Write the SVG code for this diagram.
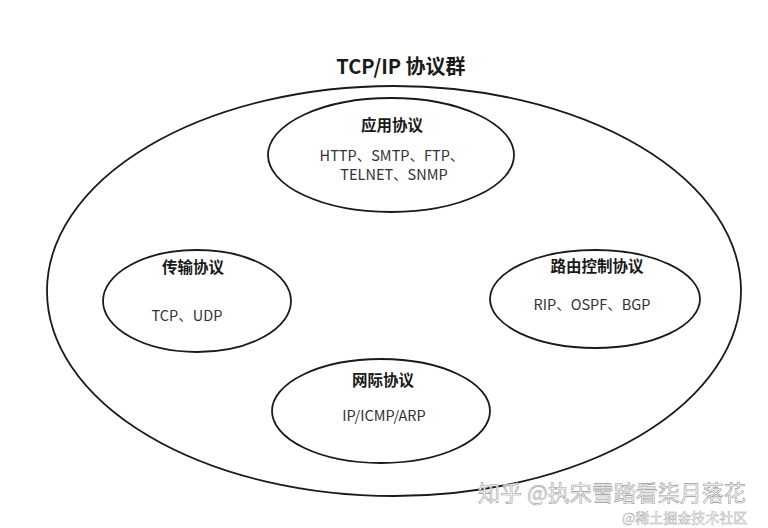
<svg xmlns="http://www.w3.org/2000/svg" width="768" height="528" viewBox="0 0 768 528">
<style>
  .shape { fill: #ffffff; stroke: #1a1a1a; stroke-width: 1.8; }
  .outer { fill: none; stroke: #1a1a1a; stroke-width: 1.8; }
  text { font-family: "Noto Sans CJK SC", "Noto Sans", sans-serif; text-anchor: middle; fill: #1a1a1a; }
  .title { font-size: 20px; font-weight: bold; }
  .head { font-size: 15.5px; font-weight: bold; }
  .body { font-size: 14.5px; fill: #333333; }
  .wm { font-size: 22px; fill: #ffffff; stroke: #9a9a9a; stroke-width: 0.6; text-anchor: start; }
  .wm2 { font-size: 14px; fill: #ffffff; stroke: #b0b0b0; stroke-width: 0.5; text-anchor: start; }
</style>
<rect width="768" height="528" fill="#ffffff"/>
<g id="group-tcpip">
  <ellipse class="outer" cx="394" cy="291" rx="347" ry="205"/>
  <text class="title" x="401" y="74">TCP/IP 协议群</text>
</g>
<g id="connectors"></g>
<g id="node-app">
  <ellipse class="shape" cx="391" cy="155" rx="123" ry="57"/>
  <text class="head" x="392" y="131">应用协议</text>
  <text class="body" x="392" y="161">HTTP、SMTP、FTP、</text>
  <text class="body" x="394" y="180">TELNET、SNMP</text>
</g>
<g id="node-transport">
  <ellipse class="shape" cx="197" cy="301" rx="94" ry="51"/>
  <text class="head" x="193" y="273">传输协议</text>
  <text class="body" x="187" y="321">TCP、UDP</text>
</g>
<g id="node-routing">
  <ellipse class="shape" cx="595" cy="299" rx="105" ry="49"/>
  <text class="head" x="597" y="272">路由控制协议</text>
  <text class="body" x="592" y="310">RIP、OSPF、BGP</text>
</g>
<g id="node-ip">
  <ellipse class="shape" cx="381" cy="411" rx="109" ry="52"/>
  <text class="head" x="383" y="386">网际协议</text>
  <text class="body" x="384" y="421">IP/ICMP/ARP</text>
</g>
<g id="watermark">
  <text class="wm" x="478" y="501">知乎 @执宋雪踏看柒月落花</text>
  <text class="wm2" x="622" y="523">@稀土掘金技术社区</text>
</g>
</svg>
